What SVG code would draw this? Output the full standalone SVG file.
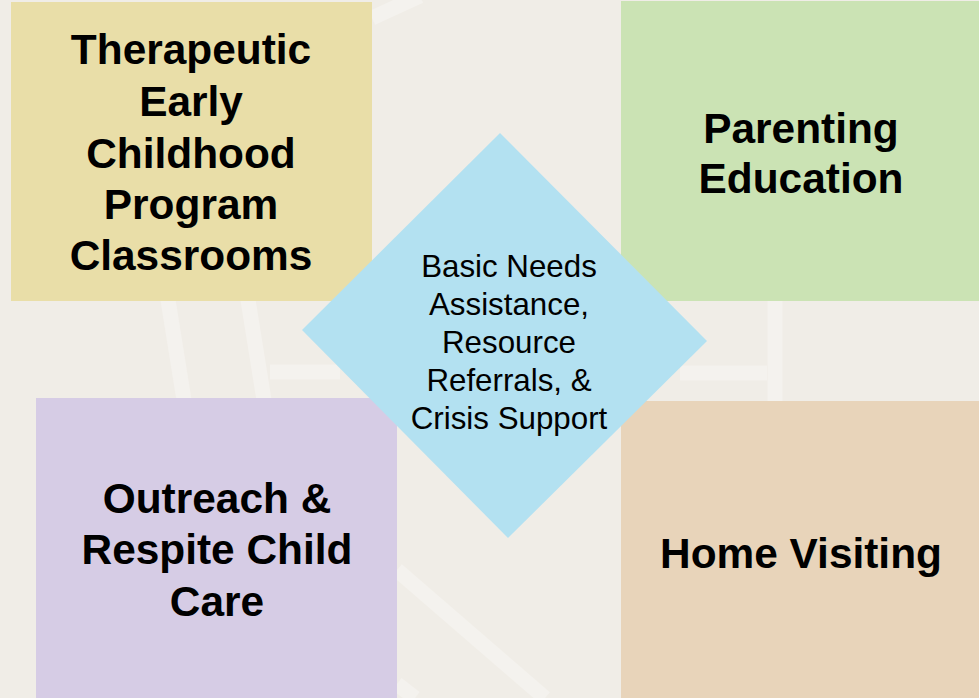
<svg xmlns="http://www.w3.org/2000/svg" width="979" height="698" viewBox="0 0 979 698">
<style>
.bg{fill:#F0EDE7}
.band{fill:none;stroke:#F4F2EE;stroke-width:15}
.box text{font-family:"Liberation Sans",Arial,sans-serif;font-weight:bold;font-size:42.4px;fill:#000;text-anchor:middle}
.dia text{font-family:"Liberation Sans",Arial,sans-serif;font-size:31.3px;fill:#000;text-anchor:middle}
</style>
<rect class="bg" x="0" y="0" width="979" height="698"/>
<g id="background-pattern">
<path class="band" d="M168 300 Q176 350 184 400"/>
<path class="band" d="M248 300 Q256 350 264 400"/>
<path class="band" d="M270 372 L340 372"/>
<path class="band" d="M775 301 L775 401"/>
<path class="band" d="M680 373 L767 373"/>
<path class="band" d="M397 570 L545 698"/>
<path class="band" d="M397 684 L415 698"/>
<path class="band" d="M372 18 L420 -4"/>
</g>
<g id="node-therapeutic" class="box">
<rect x="11" y="2" width="361" height="299" fill="#E9DEA8"/>
<text x="191" y="64">Therapeutic</text>
<text x="191" y="116">Early</text>
<text x="191" y="168">Childhood</text>
<text x="191" y="219">Program</text>
<text x="191" y="270">Classrooms</text>
</g>
<g id="node-parenting" class="box">
<rect x="621" y="1" width="358" height="300" fill="#CBE3B4"/>
<text x="801" y="143">Parenting</text>
<text x="801" y="193">Education</text>
</g>
<g id="node-outreach" class="box">
<rect x="36" y="398" width="361" height="300" fill="#D6CCE5"/>
<text x="217" y="513">Outreach &amp;</text>
<text x="217" y="564">Respite Child</text>
<text x="217" y="616">Care</text>
</g>
<g id="node-home" class="box">
<rect x="621" y="401" width="358" height="297" fill="#E8D4BA"/>
<text x="801" y="568">Home Visiting</text>
</g>
<g id="node-basic" class="dia">
<polygon points="500,133 707,341 508,538 302,330" fill="#B3E1F1"/>
<text x="509" y="277">Basic Needs</text>
<text x="509" y="315">Assistance,</text>
<text x="509" y="353">Resource</text>
<text x="509" y="391">Referrals, &amp;</text>
<text x="509" y="429">Crisis Support</text>
</g>
<g id="connectors"></g>
</svg>
